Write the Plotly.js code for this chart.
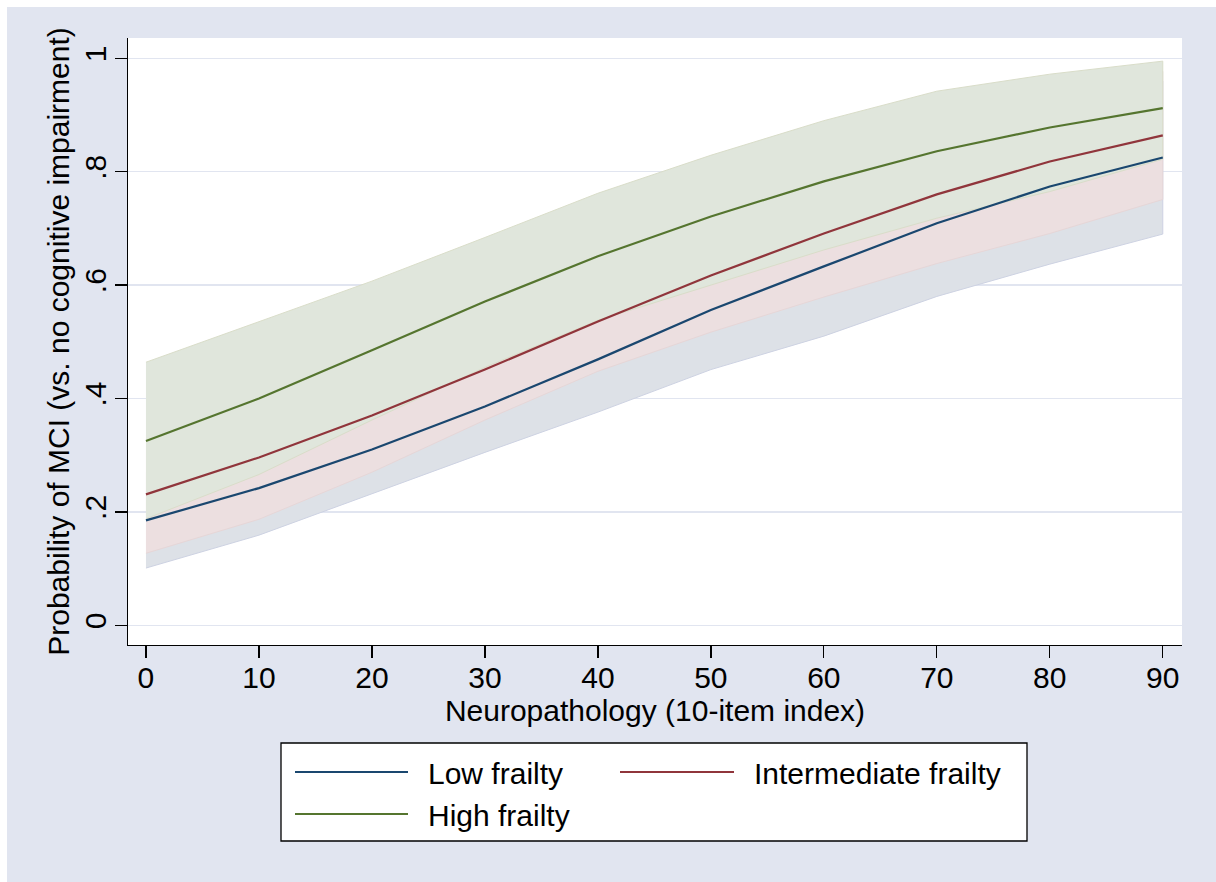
<!DOCTYPE html>
<html>
<head>
<meta charset="utf-8">
<script src="https://cdn.plot.ly/plotly-3.0.1.min.js"></script>
<style>
html, body { margin: 0; padding: 0; background: #ffffff; }
#chart { position: absolute; left: 7px; top: 7px; width: 1209px; height: 875px; }
</style>
</head>
<body>
<div id="chart"></div>
<script>
// ---- Data ----
const neuro = [0, 10, 20, 30, 40, 50, 60, 70, 80, 90];

const lowFrailty   = [0.185, 0.242, 0.310, 0.386, 0.469, 0.556, 0.633, 0.709, 0.774, 0.825];
const lowFrailtyLo = [0.101, 0.159, 0.232, 0.305, 0.376, 0.451, 0.510, 0.580, 0.637, 0.690];
const lowFrailtyHi = [0.269, 0.325, 0.388, 0.467, 0.562, 0.661, 0.756, 0.838, 0.911, 0.960];

const midFrailty   = [0.231, 0.296, 0.370, 0.451, 0.536, 0.617, 0.691, 0.760, 0.818, 0.864];
const midFrailtyLo = [0.127, 0.187, 0.270, 0.362, 0.448, 0.517, 0.579, 0.638, 0.691, 0.751];
const midFrailtyHi = [0.335, 0.407, 0.472, 0.540, 0.624, 0.717, 0.803, 0.882, 0.945, 0.977];

const highFrailty   = [0.325, 0.400, 0.485, 0.571, 0.651, 0.721, 0.783, 0.836, 0.878, 0.912];
const highFrailtyLo = [0.188, 0.266, 0.362, 0.455, 0.538, 0.600, 0.662, 0.718, 0.765, 0.822];
const highFrailtyHi = [0.464, 0.535, 0.607, 0.684, 0.762, 0.829, 0.890, 0.942, 0.972, 0.995];

const seriesNames = ["Low frailty", "Intermediate frailty", "High frailty"];
const xTickVals = [0, 10, 20, 30, 40, 50, 60, 70, 80, 90];
const yTickVals = [0, 0.2, 0.4, 0.6, 0.8, 1];
const yTickText = ["0", ".2", ".4", ".6", ".8", "1"];
const xTitle = "Neuropathology (10-item index)";
const yTitle = "Probability of MCI (vs. no cognitive impairment)";

// ---- Styles ----
const FONT = "Liberation Sans, Arial, Helvetica, sans-serif";
const lineColors = ["#1a476f", "#90353b", "#55752f"];
const bandFills  = ["#dde1e7", "#ecdfe0", "#e0e6dc"];
const bandEdges  = ["#cdd2e2", "#e6d6d7", "#d9ddc9"];

function band(lo, hi, i) {
  const xs = neuro.concat(neuro.slice().reverse());
  const ys = hi.concat(lo.slice().reverse());
  return {
    x: xs, y: ys, type: "scatter", mode: "lines", fill: "toself",
    fillcolor: bandFills[i], line: { color: bandEdges[i], width: 1 },
    hoverinfo: "skip", showlegend: false
  };
}
function line(y, i) {
  return {
    x: neuro, y: y, type: "scatter", mode: "lines", name: seriesNames[i],
    line: { color: lineColors[i], width: 2.2 }, showlegend: false
  };
}

const traces = [
  band(lowFrailtyLo, lowFrailtyHi, 0),
  band(midFrailtyLo, midFrailtyHi, 1),
  band(highFrailtyLo, highFrailtyHi, 2),
  line(lowFrailty, 0),
  line(midFrailty, 1),
  line(highFrailty, 2)
];

// plot area in div pixels
const W = 1209, H = 875;
const M = { l: 121, r: 34, t: 31, b: 237 };
const PW = W - M.l - M.r, PH = H - M.t - M.b;
// convert page pixel coords (image) to paper coords
function px(x) { return (x - 7 - M.l) / PW; }
function py(y) { return (H - M.b - (y - 7)) / PH; }

// custom legend (Stata style)
const legendRows = [
  { x0: 295, x1: 408, y: 772, tx: 426, ty: 773 },
  { x0: 620, x1: 734, y: 772, tx: 752, ty: 773 },
  { x0: 295, x1: 408, y: 814, tx: 426, ty: 815 }
];
const shapes = [{
  type: "rect", xref: "paper", yref: "paper",
  x0: px(281), x1: px(1027), y0: py(743), y1: py(841),
  fillcolor: "#ffffff", line: { color: "#000000", width: 1.3 }
}];
const annotations = [];
legendRows.forEach((r, i) => {
  shapes.push({
    type: "line", xref: "paper", yref: "paper",
    x0: px(r.x0), x1: px(r.x1), y0: py(r.y), y1: py(r.y),
    line: { color: lineColors[i], width: 2.2 }
  });
  annotations.push({
    xref: "paper", yref: "paper", x: px(r.tx), y: py(r.ty),
    xanchor: "left", yanchor: "middle", showarrow: false,
    text: seriesNames[i], font: { family: FONT, size: 30, color: "#000" }
  });
});

const layout = {
  width: W, height: H,
  margin: M,
  paper_bgcolor: "#e1e5f0",
  plot_bgcolor: "#ffffff",
  font: { family: FONT, size: 30, color: "#000000" },
  showlegend: false,
  xaxis: {
    range: [-1.59, 91.7],
    tickvals: xTickVals,
    ticks: "outside", ticklen: 12, tickwidth: 1.3, tickcolor: "#000",
    showline: true, linecolor: "#000", linewidth: 1.3,
    showgrid: false, zeroline: false,
    ticklabelstandoff: -6,
    tickfont: { family: FONT, size: 30 },
    title: { text: xTitle, font: { family: FONT, size: 30 }, standoff: 2 }
  },
  yaxis: {
    range: [-0.0347, 1.0358],
    tickvals: yTickVals, ticktext: yTickText, tickangle: -90,
    ticks: "outside", ticklen: 12, tickwidth: 1.3, tickcolor: "#000",
    showline: true, linecolor: "#000", linewidth: 1.3,
    showgrid: true, gridcolor: "#e1e5f0", gridwidth: 1.5,
    zeroline: false,
    ticklabelstandoff: -3,
    tickfont: { family: FONT, size: 30 },
    title: { text: yTitle, font: { family: FONT, size: 30 }, standoff: 0 }
  },
  shapes: shapes,
  annotations: annotations
};

Plotly.newPlot("chart", traces, layout, { displayModeBar: false, staticPlot: true });
</script>
</body>
</html>
